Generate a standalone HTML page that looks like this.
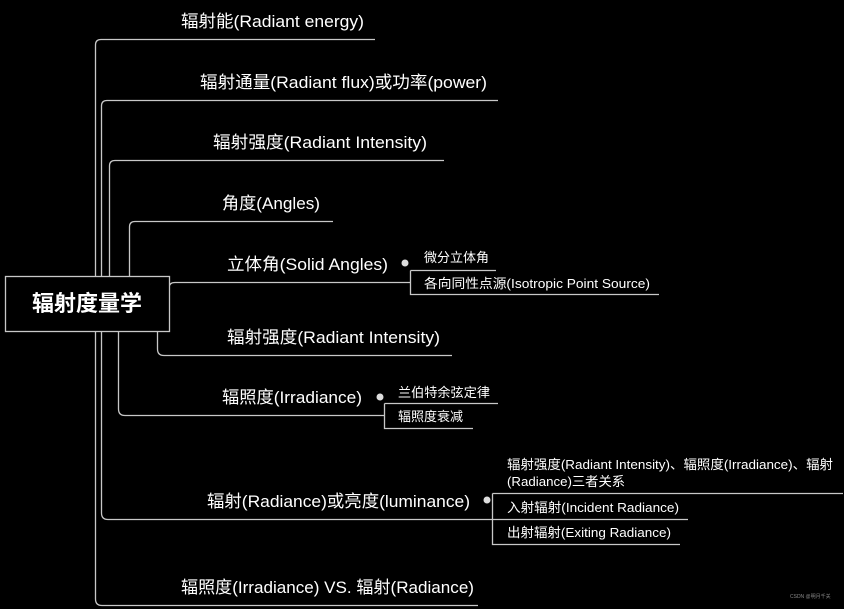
<!DOCTYPE html>
<html><head><meta charset="utf-8"><style>
html,body{margin:0;padding:0;background:#000;}
svg{display:block}
text{font-family:"Liberation Sans","Noto Sans CJK SC",sans-serif;fill:#fff;}
.m{font-size:17px}
.s{font-size:13px}
</style></head><body>
<svg width="844" height="609" viewBox="0 0 844 609" xmlns="http://www.w3.org/2000/svg">
<g fill="none" stroke="#c8c8c8" stroke-width="1.3">
<path d="M95.5 276 V45 Q95.5 39.5 101 39.5 H375"/>
<path d="M101.5 276 V106 Q101.5 100.5 107 100.5 H498"/>
<path d="M109.5 276 V166 Q109.5 160.5 115 160.5 H444"/>
<path d="M129.5 276 V227 Q129.5 221.5 135 221.5 H333"/>
<path d="M169 290 V288 Q169 282.5 175 282.5 H410"/>
<path d="M410.5 270.5 H496 M410.5 270.5 V294.5 H659"/>
<path d="M157.5 331 V349 Q157.5 355.5 164 355.5 H452"/>
<path d="M118.5 331 V409 Q118.5 415.5 125 415.5 H384"/>
<path d="M384.5 403.5 H498 M384.5 403.5 V428.5 H473"/>
<path d="M101.5 331 V513 Q101.5 519.5 108 519.5 H492"/>
<path d="M492.5 493.5 H843 M492.5 493.5 V544.5 H680 M492.5 519.5 H688"/>
<path d="M95.5 331 V599 Q95.5 605.5 102 605.5 H478"/>
</g>
<rect x="5.5" y="276.5" width="164" height="55" fill="#000" stroke="#c8c8c8" stroke-width="1.3"/>
<text x="87" y="311" text-anchor="middle" style="font-size:22px;font-weight:bold">辐射度量学</text>
<g fill="#ddd">
<circle cx="405" cy="263" r="3.5"/>
<circle cx="380" cy="397" r="3.5"/>
<circle cx="487" cy="500" r="3.5"/>
</g>
<g lengthAdjust="spacingAndGlyphs">
<text class="m" x="181" y="27" textLength="183" lengthAdjust="spacingAndGlyphs">辐射能(Radiant energy)</text>
<text class="m" x="200" y="88" textLength="287" lengthAdjust="spacingAndGlyphs">辐射通量(Radiant flux)或功率(power)</text>
<text class="m" x="213" y="148" textLength="214" lengthAdjust="spacingAndGlyphs">辐射强度(Radiant Intensity)</text>
<text class="m" x="222" y="209" textLength="98" lengthAdjust="spacingAndGlyphs">角度(Angles)</text>
<text class="m" x="227" y="270" textLength="161" lengthAdjust="spacingAndGlyphs">立体角(Solid Angles)</text>
<text class="s" x="424" y="262" textLength="65" lengthAdjust="spacingAndGlyphs">微分立体角</text>
<text class="s" x="424" y="288" textLength="226" lengthAdjust="spacingAndGlyphs">各向同性点源(Isotropic Point Source)</text>
<text class="m" x="227" y="343" textLength="213" lengthAdjust="spacingAndGlyphs">辐射强度(Radiant Intensity)</text>
<text class="m" x="222" y="403" textLength="140" lengthAdjust="spacingAndGlyphs">辐照度(Irradiance)</text>
<text class="s" x="398" y="397" textLength="92" lengthAdjust="spacingAndGlyphs">兰伯特余弦定律</text>
<text class="s" x="398" y="421" textLength="65" lengthAdjust="spacingAndGlyphs">辐照度衰减</text>
<text class="m" x="207" y="507" textLength="263" lengthAdjust="spacingAndGlyphs">辐射(Radiance)或亮度(luminance)</text>
<text class="s" x="507" y="469" textLength="326" lengthAdjust="spacingAndGlyphs">辐射强度(Radiant Intensity)、辐照度(Irradiance)、辐射</text>
<text class="s" x="507" y="486" textLength="118" lengthAdjust="spacingAndGlyphs">(Radiance)三者关系</text>
<text class="s" x="507" y="512" textLength="172" lengthAdjust="spacingAndGlyphs">入射辐射(Incident Radiance)</text>
<text class="s" x="507" y="537" textLength="164" lengthAdjust="spacingAndGlyphs">出射辐射(Exiting Radiance)</text>
<text class="m" x="181" y="593" textLength="293" lengthAdjust="spacingAndGlyphs">辐照度(Irradiance) VS. 辐射(Radiance)</text>
</g>
<text x="790" y="598" style="font-size:5px;fill:#888">CSDN @明月千关</text>
</svg>
</body></html>
